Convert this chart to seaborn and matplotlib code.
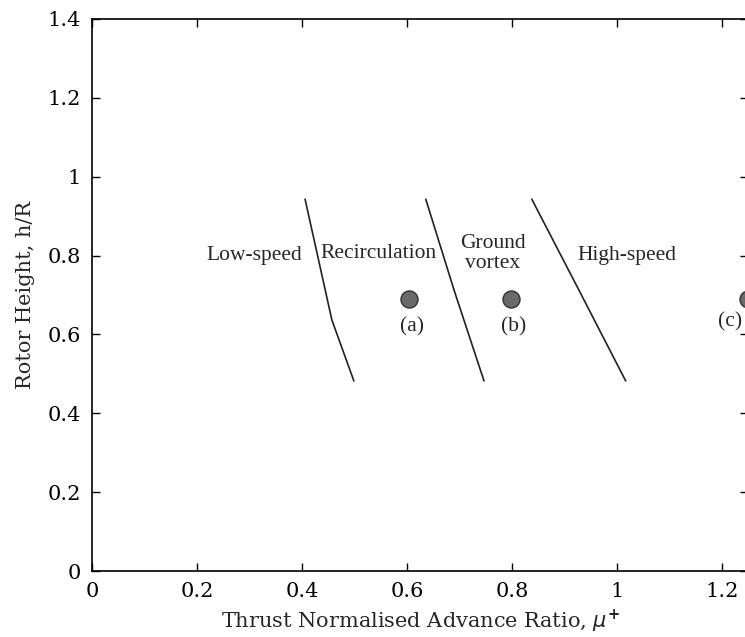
import matplotlib
matplotlib.use("Agg")
import matplotlib.pyplot as plt
import numpy as np
import pandas as pd
import seaborn as sns

# ~~~~~~~~~~~~~~~~~~~~~~~~~~~~~~~~~~~~~~~~~~~~~~~~~~~~~~~~~~~~~~~~~~~~~~~~~
# DATA
# ~~~~~~~~~~~~~~~~~~~~~~~~~~~~~~~~~~~~~~~~~~~~~~~~~~~~~~~~~~~~~~~~~~~~~~~~~
boundary_names = ["low_recirc", "recirc_ground", "ground_high"]
boundary_mu = [[0.406, 0.457, 0.499], [0.636, 0.690, 0.747], [0.838, 0.928, 1.017]]
boundary_h = [[0.943, 0.637, 0.482], [0.943, 0.712, 0.482], [0.943, 0.712, 0.482]]

case_labels = ["(a)", "(b)", "(c)"]
case_mu = [0.604, 0.798, 1.25]
case_h = [0.69, 0.69, 0.69]
case_label_mu = [0.609, 0.803, 1.216]
case_label_h = [0.618, 0.618, 0.632]

regime_labels = ["Low-speed", "Recirculation", "Ground\nvortex", "High-speed"]
regime_mu = [0.31, 0.545, 0.764, 1.019]
regime_h = [0.80, 0.805, 0.805, 0.80]

xticks = [0, 0.2, 0.4, 0.6, 0.8, 1.0, 1.2]
xticklabels = ["0", "0.2", "0.4", "0.6", "0.8", "1", "1.2"]
yticks = [0, 0.2, 0.4, 0.6, 0.8, 1.0, 1.2, 1.4]
yticklabels = ["0", "0.2", "0.4", "0.6", "0.8", "1", "1.2", "1.4"]

# ~~~~~~~~~~~~~~~~~~~~~~~~~~~~~~~~~~~~~~~~~~~~~~~~~~~~~~~~~~~~~~~~~~~~~~~~~
# tidy frames
# ~~~~~~~~~~~~~~~~~~~~~~~~~~~~~~~~~~~~~~~~~~~~~~~~~~~~~~~~~~~~~~~~~~~~~~~~~
rows = []
for name, xs, ys in zip(boundary_names, boundary_mu, boundary_h):
    for i, (x, y) in enumerate(zip(xs, ys)):
        rows.append({"boundary": name, "order": i, "mu": x, "h": y})
bound_df = pd.DataFrame(rows)
case_df = pd.DataFrame({"case": case_labels, "mu": case_mu, "h": case_h})

# ~~~~~~~~~~~~~~~~~~~~~~~~~~~~~~~~~~~~~~~~~~~~~~~~~~~~~~~~~~~~~~~~~~~~~~~~~
# PLOT
# ~~~~~~~~~~~~~~~~~~~~~~~~~~~~~~~~~~~~~~~~~~~~~~~~~~~~~~~~~~~~~~~~~~~~~~~~~
sns.set_style("white")
plt.rcParams["font.family"] = ["DejaVu Serif"]

fig = plt.figure(figsize=(7.45, 6.37), dpi=100)
ax = fig.add_axes([0.1235, 0.1036, 0.8805, 0.8666])

sns.lineplot(data=bound_df, x="mu", y="h", units="boundary", estimator=None,
             sort=False, color="#222222", lw=1.2, ax=ax)
sns.scatterplot(data=case_df, x="mu", y="h", s=150, color="#6a6a6a",
                edgecolor="#333333", linewidth=1.0, ax=ax, clip_on=False, zorder=3)

serif = ["Liberation Serif", "DejaVu Serif"]
for lab, x, y in zip(case_labels, case_label_mu, case_label_h):
    ax.text(x, y, lab, ha="center", va="center", fontsize=15.5, family=serif,
            zorder=5)
for lab, x, y in zip(regime_labels, regime_mu, regime_h):
    ax.text(x, y, lab, ha="center", va="center", fontsize=15.5,
            family=serif, linespacing=1.05)

ax.set_xlim(0, 1.25)
ax.set_ylim(0, 1.4)
ax.set_xticks(xticks)
ax.set_xticklabels(xticklabels)
ax.set_yticks(yticks)
ax.set_yticklabels(yticklabels)
ax.tick_params(direction="in", length=6, width=1, top=True, right=True,
               bottom=True, left=True, labelsize=15, colors="black", pad=8)
for sp in ax.spines.values():
    sp.set_linewidth(1.2)
    sp.set_color("black")

ax.set_xlabel(r"Thrust Normalised Advance Ratio, $\mu^{\mathbf{+}}$",
              fontsize=15, labelpad=5)
ax.set_ylabel("Rotor Height, h/R", fontsize=15, labelpad=9)

fig.savefig("out.png", dpi=100)
